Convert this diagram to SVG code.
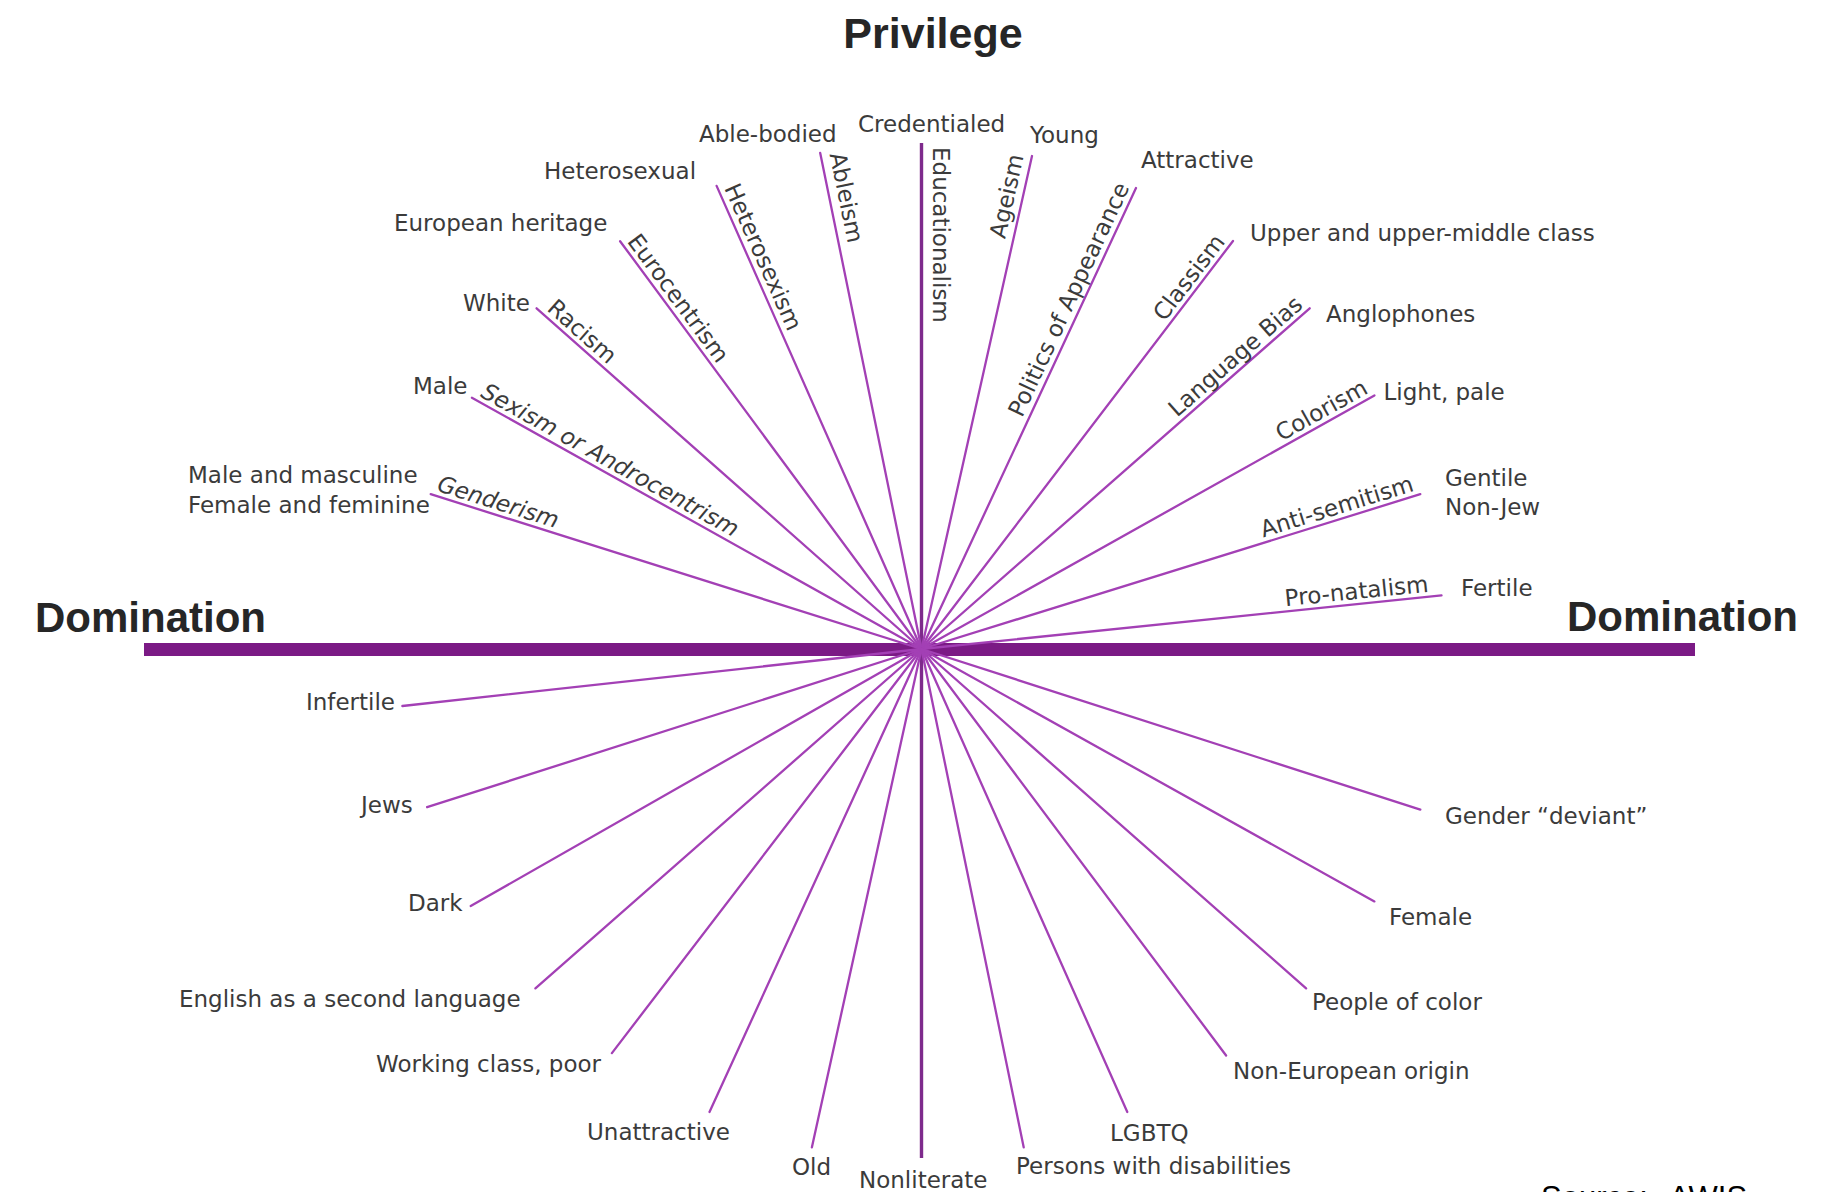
<svg xmlns="http://www.w3.org/2000/svg" width="1845" height="1192" viewBox="0 0 1845 1192">
  <style>
    .lbl { font-family: "DejaVu Sans", "Noto Sans", sans-serif; font-size: 23px; fill: #3b3b3b; }
    .it { font-style: italic; }
    .ttl { font-family: "Liberation Sans", Arial, sans-serif; font-weight: bold; font-size: 42px; fill: #262626; }
    .src { font-family: "Liberation Sans", Arial, sans-serif; font-size: 31px; fill: #000; }
    .ray { stroke: #a340b5; stroke-width: 2.3; stroke-linecap: round; fill: none; }
    .axis { stroke: #7e2a8c; stroke-width: 3.4; fill: none; }
    .bar { stroke: #7b1a85; stroke-width: 13; fill: none; }
  </style>

  <rect width="1845" height="1192" fill="#ffffff"/>

  <!-- axes and rays, all meeting at the centre (921.5, 649) -->
  <g id="connectors">
    <line class="bar" x1="144" y1="649.5" x2="1695" y2="649.5"/>
    <line class="axis" x1="921.5" y1="143" x2="921.5" y2="1158"/>
    <!-- upper-left -->
    <line class="ray" x1="921.5" y1="649" x2="430.7" y2="494.2"/>
    <line class="ray" x1="921.5" y1="649" x2="471.9" y2="397.7"/>
    <line class="ray" x1="921.5" y1="649" x2="536.6" y2="308.3"/>
    <line class="ray" x1="921.5" y1="649" x2="620.1" y2="241.2"/>
    <line class="ray" x1="921.5" y1="649" x2="716.6" y2="185.9"/>
    <line class="ray" x1="921.5" y1="649" x2="820.2" y2="153"/>
    <!-- upper-right -->
    <line class="ray" x1="921.5" y1="649" x2="1032" y2="156"/>
    <line class="ray" x1="921.5" y1="649" x2="1136" y2="188"/>
    <line class="ray" x1="921.5" y1="649" x2="1233" y2="241"/>
    <line class="ray" x1="921.5" y1="649" x2="1309.7" y2="308.3"/>
    <line class="ray" x1="921.5" y1="649" x2="1374.4" y2="395.4"/>
    <line class="ray" x1="921.5" y1="649" x2="1420.3" y2="494.2"/>
    <line class="ray" x1="921.5" y1="649" x2="1441.5" y2="595.4"/>
    <!-- lower-left -->
    <line class="ray" x1="921.5" y1="649" x2="402.4" y2="706"/>
    <line class="ray" x1="921.5" y1="649" x2="427.1" y2="807.2"/>
    <line class="ray" x1="921.5" y1="649" x2="470.7" y2="906"/>
    <line class="ray" x1="921.5" y1="649" x2="535.4" y2="988.4"/>
    <line class="ray" x1="921.5" y1="649" x2="611.9" y2="1053.1"/>
    <line class="ray" x1="921.5" y1="649" x2="709.5" y2="1112"/>
    <line class="ray" x1="921.5" y1="649" x2="811.9" y2="1147.3"/>
    <!-- lower-right -->
    <line class="ray" x1="921.5" y1="649" x2="1023.7" y2="1147.3"/>
    <line class="ray" x1="921.5" y1="649" x2="1127.3" y2="1112"/>
    <line class="ray" x1="921.5" y1="649" x2="1226.1" y2="1055.5"/>
    <line class="ray" x1="921.5" y1="649" x2="1306.1" y2="988.4"/>
    <line class="ray" x1="921.5" y1="649" x2="1374.4" y2="901.4"/>
    <line class="ray" x1="921.5" y1="649" x2="1420.3" y2="809.6"/>
  </g>

  <!-- headings -->
  <g id="title-privilege"><text class="ttl" x="933" y="48" text-anchor="middle" style="font-size:43px">Privilege</text></g>
  <g id="title-domination-left"><text class="ttl" x="35" y="632">Domination</text></g>
  <g id="title-domination-right"><text class="ttl" x="1567" y="631">Domination</text></g>

  <!-- one group per axis: privileged label, -ism along the ray, oppressed label -->
  <g id="genderism">
    <text class="lbl" x="188" y="483">Male and masculine</text>
    <text class="lbl" x="188" y="513">Female and feminine</text>
    <text class="lbl it" transform="translate(430.7 494.2) rotate(17.4)" x="4" y="-5">Genderism</text>
    <text class="lbl" x="1445" y="824">Gender “deviant”</text>
  </g>
  <g id="sexism">
    <text class="lbl" x="413" y="394">Male</text>
    <text class="lbl it" transform="translate(471.9 397.7) rotate(29.11)" x="6" y="-5">Sexism or Androcentrism</text>
    <text class="lbl" x="1389" y="925">Female</text>
  </g>
  <g id="racism">
    <text class="lbl" x="463" y="311">White</text>
    <text class="lbl" transform="translate(536.6 308.3) rotate(41.43)" x="8" y="-5">Racism</text>
    <text class="lbl" x="1312" y="1009.5">People of color</text>
  </g>
  <g id="eurocentrism">
    <text class="lbl" x="394" y="231">European heritage</text>
    <text class="lbl" transform="translate(620.1 241.2) rotate(53.47)" x="4" y="-5">Eurocentrism</text>
    <text class="lbl" x="1233" y="1079">Non-European origin</text>
  </g>
  <g id="heterosexism">
    <text class="lbl" x="544" y="178.5">Heterosexual</text>
    <text class="lbl" transform="translate(716.6 185.9) rotate(66.09)" x="5" y="-6">Heterosexism</text>
    <text class="lbl" x="1110" y="1140.5">LGBTQ</text>
  </g>
  <g id="ableism">
    <text class="lbl" x="699" y="142">Able-bodied</text>
    <text class="lbl" transform="translate(820.2 153) rotate(78.43)" x="3" y="-9">Ableism</text>
    <text class="lbl" x="1016" y="1173.5">Persons with disabilities</text>
  </g>
  <g id="educationalism">
    <text class="lbl" x="858" y="132">Credentialed</text>
    <text class="lbl" transform="translate(921.5 143) rotate(90)" x="4" y="-11">Educationalism</text>
    <text class="lbl" x="859" y="1188">Nonliterate</text>
  </g>
  <g id="ageism">
    <text class="lbl" x="1030" y="143">Young</text>
    <text class="lbl" transform="translate(1032 156) rotate(-77.34)" x="-2" y="-8" text-anchor="end">Ageism</text>
    <text class="lbl" x="792" y="1174.5">Old</text>
  </g>
  <g id="appearance">
    <text class="lbl" x="1141" y="168">Attractive</text>
    <text class="lbl" transform="translate(1136 188) rotate(-65)" x="-2" y="-6" text-anchor="end">Politics of Appearance</text>
    <text class="lbl" x="587" y="1139.5">Unattractive</text>
  </g>
  <g id="classism">
    <text class="lbl" x="1250" y="241">Upper and upper-middle class</text>
    <text class="lbl" transform="translate(1233 241) rotate(-52.57)" x="-5" y="-5" text-anchor="end">Classism</text>
    <text class="lbl" x="376" y="1072">Working class, poor</text>
  </g>
  <g id="language-bias">
    <text class="lbl" x="1326" y="322">Anglophones</text>
    <text class="lbl" transform="translate(1309.7 308.3) rotate(-41.19)" x="-3" y="-5" text-anchor="end">Language Bias</text>
    <text class="lbl" x="179" y="1006.5">English as a second language</text>
  </g>
  <g id="colorism">
    <text class="lbl" x="1383.5" y="400">Light, pale</text>
    <text class="lbl" transform="translate(1374.4 395.4) rotate(-29.15)" x="-3" y="-5" text-anchor="end">Colorism</text>
    <text class="lbl" x="408" y="910.5">Dark</text>
  </g>
  <g id="anti-semitism">
    <text class="lbl" x="1445" y="486">Gentile</text>
    <text class="lbl" x="1445" y="515">Non-Jew</text>
    <text class="lbl" transform="translate(1420.3 494.2) rotate(-17.14)" x="-4" y="-5" text-anchor="end">Anti-semitism</text>
    <text class="lbl" x="361" y="813">Jews</text>
  </g>
  <g id="pro-natalism">
    <text class="lbl" x="1461" y="596">Fertile</text>
    <text class="lbl" transform="translate(1441.5 595.4) rotate(-5.78)" x="-12" y="-5" text-anchor="end">Pro-natalism</text>
    <text class="lbl" x="306" y="710">Infertile</text>
  </g>

  <!-- credit line, running off the bottom edge -->
  <g id="source"><text class="src" x="1541" y="1208">Source:<tspan x="1669">AWIS</tspan></text></g>
</svg>
